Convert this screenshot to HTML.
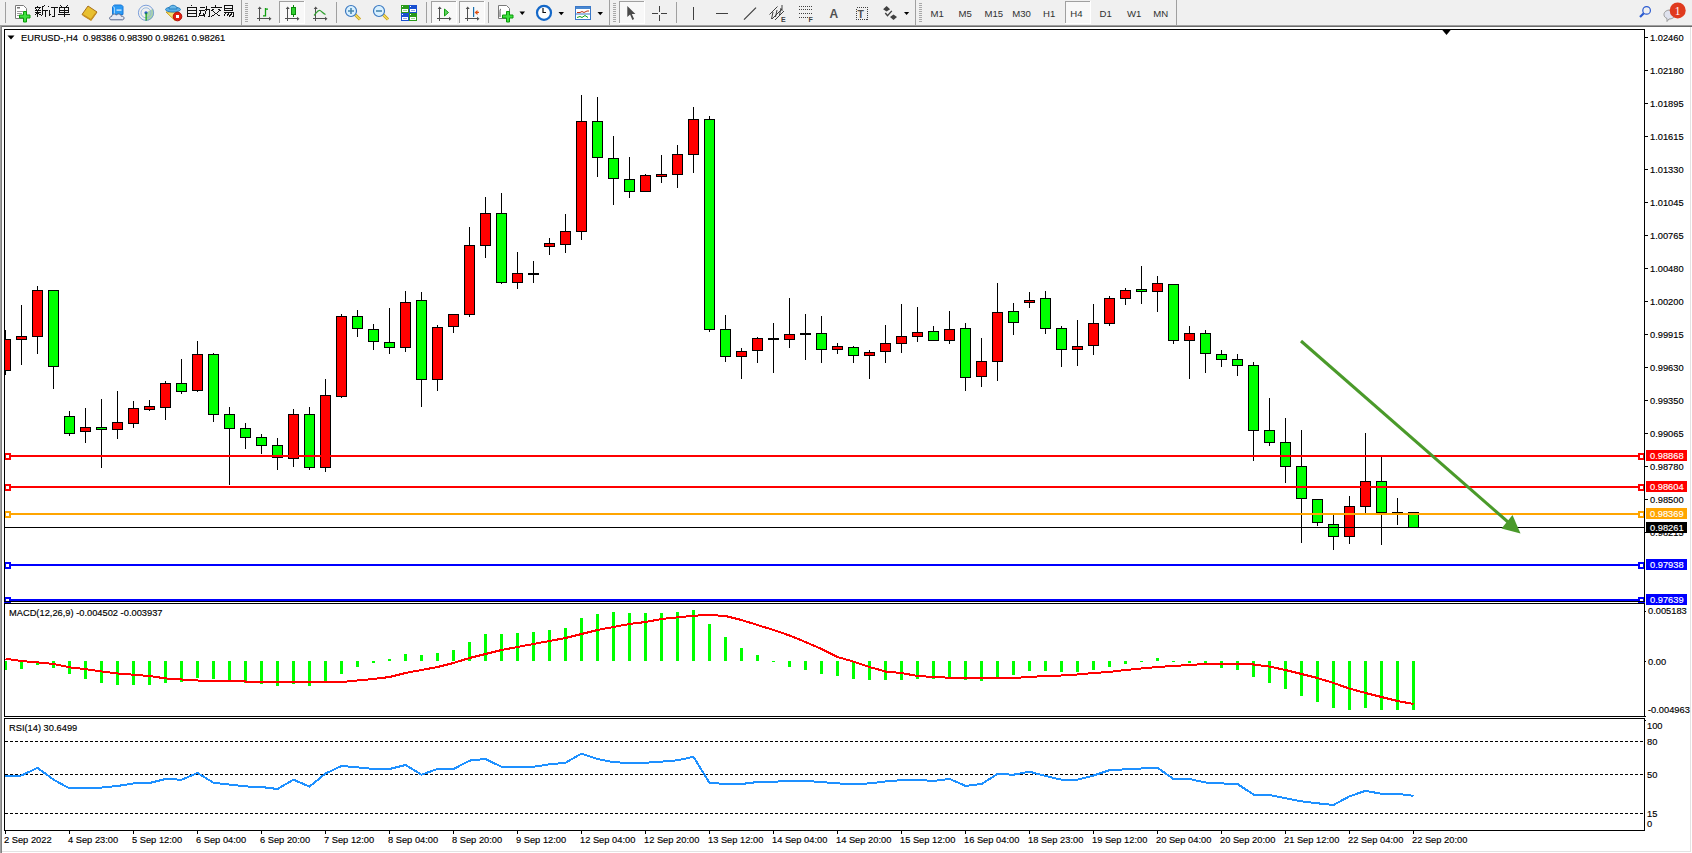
<!DOCTYPE html>
<html><head><meta charset="utf-8"><title>MT4</title>
<style>html,body{margin:0;padding:0;width:1692px;height:853px;overflow:hidden;background:#f0f0f0;position:relative;font-family:'Liberation Sans',sans-serif}</style>
</head><body>
<svg width="1692" height="853" viewBox="0 0 1692 853" style="position:absolute;left:0;top:0;font-family:'Liberation Sans',sans-serif" shape-rendering="crispEdges"><style>text.k{fill:#000;stroke:#000;stroke-width:0.15px}text.w{fill:#fff;stroke:#fff;stroke-width:0.15px}</style><rect x="0" y="25" width="1692" height="828" fill="#ffffff"/><rect x="0" y="25" width="1692" height="1" fill="#a0a0a0"/><rect x="0" y="26" width="1692" height="1" fill="#696969"/><rect x="0" y="25" width="1" height="828" fill="#a0a0a0"/><rect x="1" y="26" width="1" height="827" fill="#808080"/><rect x="1690" y="27" width="1" height="825" fill="#e3e3e3"/><rect x="2" y="851" width="1689" height="1" fill="#e3e3e3"/><defs><clipPath id="cm"><rect x="5" y="30" width="1639" height="571"/></clipPath><clipPath id="cd"><rect x="5" y="604" width="1639" height="112"/></clipPath><clipPath id="cr"><rect x="5" y="719" width="1639" height="111"/></clipPath></defs><g clip-path="url(#cm)"><rect x="5" y="330" width="1" height="45" fill="#000"/><rect x="0.5" y="339.5" width="10" height="31" fill="#ff0000" stroke="#000" stroke-width="1"/><rect x="21" y="305" width="1" height="60" fill="#000"/><rect x="16.5" y="336.5" width="10" height="3" fill="#ff0000" stroke="#000" stroke-width="1"/><rect x="37" y="286" width="1" height="68" fill="#000"/><rect x="32.5" y="290.5" width="10" height="46" fill="#ff0000" stroke="#000" stroke-width="1"/><rect x="53" y="290" width="1" height="99" fill="#000"/><rect x="48.5" y="290.5" width="10" height="76" fill="#00ff00" stroke="#000" stroke-width="1"/><rect x="69" y="411" width="1" height="25" fill="#000"/><rect x="64.5" y="416.5" width="10" height="17" fill="#00ff00" stroke="#000" stroke-width="1"/><rect x="85" y="408" width="1" height="35" fill="#000"/><rect x="80.5" y="427.5" width="10" height="4" fill="#ff0000" stroke="#000" stroke-width="1"/><rect x="101" y="399" width="1" height="69" fill="#000"/><rect x="96.5" y="427.5" width="10" height="2" fill="#00ff00" stroke="#000" stroke-width="1"/><rect x="117" y="391" width="1" height="48" fill="#000"/><rect x="112.5" y="422.5" width="10" height="7" fill="#ff0000" stroke="#000" stroke-width="1"/><rect x="133" y="401" width="1" height="27" fill="#000"/><rect x="128.5" y="408.5" width="10" height="15" fill="#ff0000" stroke="#000" stroke-width="1"/><rect x="149" y="400" width="1" height="11" fill="#000"/><rect x="144.5" y="406.5" width="10" height="3" fill="#ff0000" stroke="#000" stroke-width="1"/><rect x="165" y="381" width="1" height="39" fill="#000"/><rect x="160.5" y="383.5" width="10" height="24" fill="#ff0000" stroke="#000" stroke-width="1"/><rect x="181" y="359" width="1" height="35" fill="#000"/><rect x="176.5" y="383.5" width="10" height="8" fill="#00ff00" stroke="#000" stroke-width="1"/><rect x="197" y="341" width="1" height="51" fill="#000"/><rect x="192.5" y="354.5" width="10" height="36" fill="#ff0000" stroke="#000" stroke-width="1"/><rect x="213" y="353" width="1" height="69" fill="#000"/><rect x="208.5" y="354.5" width="10" height="60" fill="#00ff00" stroke="#000" stroke-width="1"/><rect x="229" y="407" width="1" height="78" fill="#000"/><rect x="224.5" y="414.5" width="10" height="14" fill="#00ff00" stroke="#000" stroke-width="1"/><rect x="245" y="423" width="1" height="26" fill="#000"/><rect x="240.5" y="428.5" width="10" height="9" fill="#00ff00" stroke="#000" stroke-width="1"/><rect x="261" y="434" width="1" height="20" fill="#000"/><rect x="256.5" y="437.5" width="10" height="8" fill="#00ff00" stroke="#000" stroke-width="1"/><rect x="277" y="438" width="1" height="32" fill="#000"/><rect x="272.5" y="445.5" width="10" height="12" fill="#00ff00" stroke="#000" stroke-width="1"/><rect x="293" y="409" width="1" height="58" fill="#000"/><rect x="288.5" y="414.5" width="10" height="44" fill="#ff0000" stroke="#000" stroke-width="1"/><rect x="309" y="407" width="1" height="63" fill="#000"/><rect x="304.5" y="414.5" width="10" height="53" fill="#00ff00" stroke="#000" stroke-width="1"/><rect x="325" y="379" width="1" height="93" fill="#000"/><rect x="320.5" y="395.5" width="10" height="72" fill="#ff0000" stroke="#000" stroke-width="1"/><rect x="341" y="314" width="1" height="84" fill="#000"/><rect x="336.5" y="316.5" width="10" height="80" fill="#ff0000" stroke="#000" stroke-width="1"/><rect x="357" y="310" width="1" height="27" fill="#000"/><rect x="352.5" y="316.5" width="10" height="12" fill="#00ff00" stroke="#000" stroke-width="1"/><rect x="373" y="324" width="1" height="26" fill="#000"/><rect x="368.5" y="329.5" width="10" height="12" fill="#00ff00" stroke="#000" stroke-width="1"/><rect x="389" y="308" width="1" height="46" fill="#000"/><rect x="384.5" y="342.5" width="10" height="5" fill="#00ff00" stroke="#000" stroke-width="1"/><rect x="405" y="291" width="1" height="61" fill="#000"/><rect x="400.5" y="302.5" width="10" height="45" fill="#ff0000" stroke="#000" stroke-width="1"/><rect x="421" y="292" width="1" height="115" fill="#000"/><rect x="416.5" y="300.5" width="10" height="79" fill="#00ff00" stroke="#000" stroke-width="1"/><rect x="437" y="325" width="1" height="66" fill="#000"/><rect x="432.5" y="327.5" width="10" height="52" fill="#ff0000" stroke="#000" stroke-width="1"/><rect x="453" y="314" width="1" height="19" fill="#000"/><rect x="448.5" y="314.5" width="10" height="12" fill="#ff0000" stroke="#000" stroke-width="1"/><rect x="469" y="227" width="1" height="90" fill="#000"/><rect x="464.5" y="245.5" width="10" height="69" fill="#ff0000" stroke="#000" stroke-width="1"/><rect x="485" y="197" width="1" height="61" fill="#000"/><rect x="480.5" y="213.5" width="10" height="32" fill="#ff0000" stroke="#000" stroke-width="1"/><rect x="501" y="193" width="1" height="91" fill="#000"/><rect x="496.5" y="213.5" width="10" height="69" fill="#00ff00" stroke="#000" stroke-width="1"/><rect x="517" y="252" width="1" height="37" fill="#000"/><rect x="512.5" y="273.5" width="10" height="9" fill="#ff0000" stroke="#000" stroke-width="1"/><rect x="533" y="261" width="1" height="22" fill="#000"/><rect x="528" y="273" width="11" height="2" fill="#000"/><rect x="549" y="238" width="1" height="17" fill="#000"/><rect x="544.5" y="243.5" width="10" height="3" fill="#ff0000" stroke="#000" stroke-width="1"/><rect x="565" y="214" width="1" height="39" fill="#000"/><rect x="560.5" y="231.5" width="10" height="13" fill="#ff0000" stroke="#000" stroke-width="1"/><rect x="581" y="95" width="1" height="145" fill="#000"/><rect x="576.5" y="121.5" width="10" height="110" fill="#ff0000" stroke="#000" stroke-width="1"/><rect x="597" y="97" width="1" height="80" fill="#000"/><rect x="592.5" y="121.5" width="10" height="36" fill="#00ff00" stroke="#000" stroke-width="1"/><rect x="613" y="136" width="1" height="69" fill="#000"/><rect x="608.5" y="158.5" width="10" height="20" fill="#00ff00" stroke="#000" stroke-width="1"/><rect x="629" y="157" width="1" height="41" fill="#000"/><rect x="624.5" y="179.5" width="10" height="12" fill="#00ff00" stroke="#000" stroke-width="1"/><rect x="645" y="174" width="1" height="18" fill="#000"/><rect x="640.5" y="175.5" width="10" height="16" fill="#ff0000" stroke="#000" stroke-width="1"/><rect x="661" y="155" width="1" height="28" fill="#000"/><rect x="656.5" y="174.5" width="10" height="2" fill="#ff0000" stroke="#000" stroke-width="1"/><rect x="677" y="145" width="1" height="43" fill="#000"/><rect x="672.5" y="154.5" width="10" height="20" fill="#ff0000" stroke="#000" stroke-width="1"/><rect x="693" y="107" width="1" height="66" fill="#000"/><rect x="688.5" y="119.5" width="10" height="35" fill="#ff0000" stroke="#000" stroke-width="1"/><rect x="709" y="116" width="1" height="216" fill="#000"/><rect x="704.5" y="119.5" width="10" height="210" fill="#00ff00" stroke="#000" stroke-width="1"/><rect x="725" y="315" width="1" height="47" fill="#000"/><rect x="720.5" y="329.5" width="10" height="27" fill="#00ff00" stroke="#000" stroke-width="1"/><rect x="741" y="348" width="1" height="31" fill="#000"/><rect x="736.5" y="351.5" width="10" height="5" fill="#ff0000" stroke="#000" stroke-width="1"/><rect x="757" y="337" width="1" height="26" fill="#000"/><rect x="752.5" y="338.5" width="10" height="12" fill="#ff0000" stroke="#000" stroke-width="1"/><rect x="773" y="323" width="1" height="50" fill="#000"/><rect x="768" y="338" width="11" height="2" fill="#000"/><rect x="789" y="298" width="1" height="50" fill="#000"/><rect x="784.5" y="334.5" width="10" height="5" fill="#ff0000" stroke="#000" stroke-width="1"/><rect x="805" y="314" width="1" height="46" fill="#000"/><rect x="800" y="333" width="11" height="2" fill="#000"/><rect x="821" y="316" width="1" height="47" fill="#000"/><rect x="816.5" y="333.5" width="10" height="16" fill="#00ff00" stroke="#000" stroke-width="1"/><rect x="837" y="343" width="1" height="11" fill="#000"/><rect x="832.5" y="346.5" width="10" height="3" fill="#ff0000" stroke="#000" stroke-width="1"/><rect x="853" y="346" width="1" height="17" fill="#000"/><rect x="848.5" y="347.5" width="10" height="8" fill="#00ff00" stroke="#000" stroke-width="1"/><rect x="869" y="350" width="1" height="29" fill="#000"/><rect x="864.5" y="352.5" width="10" height="3" fill="#ff0000" stroke="#000" stroke-width="1"/><rect x="885" y="325" width="1" height="38" fill="#000"/><rect x="880.5" y="343.5" width="10" height="8" fill="#ff0000" stroke="#000" stroke-width="1"/><rect x="901" y="304" width="1" height="49" fill="#000"/><rect x="896.5" y="336.5" width="10" height="7" fill="#ff0000" stroke="#000" stroke-width="1"/><rect x="917" y="307" width="1" height="35" fill="#000"/><rect x="912.5" y="332.5" width="10" height="4" fill="#ff0000" stroke="#000" stroke-width="1"/><rect x="933" y="326" width="1" height="15" fill="#000"/><rect x="928.5" y="331.5" width="10" height="9" fill="#00ff00" stroke="#000" stroke-width="1"/><rect x="949" y="311" width="1" height="33" fill="#000"/><rect x="944.5" y="329.5" width="10" height="11" fill="#ff0000" stroke="#000" stroke-width="1"/><rect x="965" y="323" width="1" height="68" fill="#000"/><rect x="960.5" y="328.5" width="10" height="49" fill="#00ff00" stroke="#000" stroke-width="1"/><rect x="981" y="338" width="1" height="49" fill="#000"/><rect x="976.5" y="361.5" width="10" height="15" fill="#ff0000" stroke="#000" stroke-width="1"/><rect x="997" y="283" width="1" height="98" fill="#000"/><rect x="992.5" y="312.5" width="10" height="49" fill="#ff0000" stroke="#000" stroke-width="1"/><rect x="1013" y="303" width="1" height="32" fill="#000"/><rect x="1008.5" y="311.5" width="10" height="11" fill="#00ff00" stroke="#000" stroke-width="1"/><rect x="1029" y="292" width="1" height="16" fill="#000"/><rect x="1024.5" y="300.5" width="10" height="2" fill="#ff0000" stroke="#000" stroke-width="1"/><rect x="1045" y="291" width="1" height="43" fill="#000"/><rect x="1040.5" y="298.5" width="10" height="30" fill="#00ff00" stroke="#000" stroke-width="1"/><rect x="1061" y="326" width="1" height="41" fill="#000"/><rect x="1056.5" y="328.5" width="10" height="21" fill="#00ff00" stroke="#000" stroke-width="1"/><rect x="1077" y="320" width="1" height="46" fill="#000"/><rect x="1072.5" y="346.5" width="10" height="3" fill="#ff0000" stroke="#000" stroke-width="1"/><rect x="1093" y="304" width="1" height="51" fill="#000"/><rect x="1088.5" y="323.5" width="10" height="22" fill="#ff0000" stroke="#000" stroke-width="1"/><rect x="1109" y="296" width="1" height="30" fill="#000"/><rect x="1104.5" y="298.5" width="10" height="25" fill="#ff0000" stroke="#000" stroke-width="1"/><rect x="1125" y="288" width="1" height="17" fill="#000"/><rect x="1120.5" y="290.5" width="10" height="8" fill="#ff0000" stroke="#000" stroke-width="1"/><rect x="1141" y="266" width="1" height="38" fill="#000"/><rect x="1136.5" y="289.5" width="10" height="2" fill="#00ff00" stroke="#000" stroke-width="1"/><rect x="1157" y="276" width="1" height="36" fill="#000"/><rect x="1152.5" y="283.5" width="10" height="8" fill="#ff0000" stroke="#000" stroke-width="1"/><rect x="1173" y="284" width="1" height="60" fill="#000"/><rect x="1168.5" y="284.5" width="10" height="56" fill="#00ff00" stroke="#000" stroke-width="1"/><rect x="1189" y="326" width="1" height="53" fill="#000"/><rect x="1184.5" y="333.5" width="10" height="7" fill="#ff0000" stroke="#000" stroke-width="1"/><rect x="1205" y="330" width="1" height="43" fill="#000"/><rect x="1200.5" y="333.5" width="10" height="20" fill="#00ff00" stroke="#000" stroke-width="1"/><rect x="1221" y="350" width="1" height="17" fill="#000"/><rect x="1216.5" y="354.5" width="10" height="5" fill="#00ff00" stroke="#000" stroke-width="1"/><rect x="1237" y="354" width="1" height="22" fill="#000"/><rect x="1232.5" y="359.5" width="10" height="6" fill="#00ff00" stroke="#000" stroke-width="1"/><rect x="1253" y="362" width="1" height="99" fill="#000"/><rect x="1248.5" y="365.5" width="10" height="65" fill="#00ff00" stroke="#000" stroke-width="1"/><rect x="1269" y="398" width="1" height="48" fill="#000"/><rect x="1264.5" y="430.5" width="10" height="12" fill="#00ff00" stroke="#000" stroke-width="1"/><rect x="1285" y="418" width="1" height="65" fill="#000"/><rect x="1280.5" y="442.5" width="10" height="24" fill="#00ff00" stroke="#000" stroke-width="1"/><rect x="1301" y="430" width="1" height="113" fill="#000"/><rect x="1296.5" y="466.5" width="10" height="32" fill="#00ff00" stroke="#000" stroke-width="1"/><rect x="1317" y="499" width="1" height="27" fill="#000"/><rect x="1312.5" y="499.5" width="10" height="23" fill="#00ff00" stroke="#000" stroke-width="1"/><rect x="1333" y="515" width="1" height="35" fill="#000"/><rect x="1328.5" y="524.5" width="10" height="12" fill="#00ff00" stroke="#000" stroke-width="1"/><rect x="1349" y="496" width="1" height="48" fill="#000"/><rect x="1344.5" y="506.5" width="10" height="30" fill="#ff0000" stroke="#000" stroke-width="1"/><rect x="1365" y="433" width="1" height="80" fill="#000"/><rect x="1360.5" y="481.5" width="10" height="25" fill="#ff0000" stroke="#000" stroke-width="1"/><rect x="1381" y="456" width="1" height="89" fill="#000"/><rect x="1376.5" y="481.5" width="10" height="31" fill="#00ff00" stroke="#000" stroke-width="1"/><rect x="1397" y="498" width="1" height="27" fill="#000"/><rect x="1392" y="512" width="11" height="2" fill="#000"/><rect x="1413" y="512" width="1" height="16" fill="#000"/><rect x="1408.5" y="512.5" width="10" height="15" fill="#00ff00" stroke="#000" stroke-width="1"/><rect x="5" y="455" width="1639" height="2" fill="#ff0000"/><rect x="5" y="486" width="1639" height="2" fill="#ff0000"/><rect x="5" y="513" width="1639" height="2" fill="#ffa500"/><rect x="5" y="564" width="1639" height="2" fill="#0000ff"/><rect x="5" y="599" width="1639" height="2" fill="#0000ff"/><rect x="5" y="527" width="1639" height="1" fill="#000"/><g shape-rendering="auto"><line x1="1301" y1="341" x2="1508" y2="522" stroke="#4a9a2a" stroke-width="3"/><polygon points="1520.5,533.5 1512.5,515 1501.5,528.5" fill="#4a9a2a"/></g></g><rect x="4.5" y="453.5" width="5" height="5" fill="#fff" stroke="#ff0000" stroke-width="2"/><rect x="1638.5" y="453.5" width="5" height="5" fill="#fff" stroke="#ff0000" stroke-width="2"/><rect x="4.5" y="484.5" width="5" height="5" fill="#fff" stroke="#ff0000" stroke-width="2"/><rect x="1638.5" y="484.5" width="5" height="5" fill="#fff" stroke="#ff0000" stroke-width="2"/><rect x="4.5" y="511.5" width="5" height="5" fill="#fff" stroke="#ffa500" stroke-width="2"/><rect x="1638.5" y="511.5" width="5" height="5" fill="#fff" stroke="#ffa500" stroke-width="2"/><rect x="4.5" y="562.5" width="5" height="5" fill="#fff" stroke="#0000ff" stroke-width="2"/><rect x="1638.5" y="562.5" width="5" height="5" fill="#fff" stroke="#0000ff" stroke-width="2"/><rect x="4.5" y="597.5" width="5" height="5" fill="#fff" stroke="#0000ff" stroke-width="2"/><rect x="1638.5" y="597.5" width="5" height="5" fill="#fff" stroke="#0000ff" stroke-width="2"/><rect x="4.5" y="29.5" width="1640" height="572" fill="none" stroke="#000"/><rect x="4.5" y="603.5" width="1640" height="113" fill="none" stroke="#000"/><rect x="4.5" y="718.5" width="1640" height="112" fill="none" stroke="#000"/><polygon points="1441.5,29 1451.5,29 1446.5,35" fill="#000" shape-rendering="auto"/><polygon points="7.5,35.5 14.5,35.5 11,39.5" fill="#000" shape-rendering="auto"/><text x="21" y="41" font-size="9.3" class="k" xml:space="preserve">EURUSD-,H4  0.98386 0.98390 0.98261 0.98261</text><rect x="1645" y="37" width="3" height="1" fill="#000"/><text x="1650" y="40.6" font-size="9.3" class="k">1.02460</text><rect x="1645" y="70" width="3" height="1" fill="#000"/><text x="1650" y="73.6" font-size="9.3" class="k">1.02180</text><rect x="1645" y="103" width="3" height="1" fill="#000"/><text x="1650" y="106.6" font-size="9.3" class="k">1.01895</text><rect x="1645" y="136" width="3" height="1" fill="#000"/><text x="1650" y="139.6" font-size="9.3" class="k">1.01615</text><rect x="1645" y="169" width="3" height="1" fill="#000"/><text x="1650" y="172.6" font-size="9.3" class="k">1.01330</text><rect x="1645" y="202" width="3" height="1" fill="#000"/><text x="1650" y="205.6" font-size="9.3" class="k">1.01045</text><rect x="1645" y="235" width="3" height="1" fill="#000"/><text x="1650" y="238.6" font-size="9.3" class="k">1.00765</text><rect x="1645" y="268" width="3" height="1" fill="#000"/><text x="1650" y="271.6" font-size="9.3" class="k">1.00480</text><rect x="1645" y="301" width="3" height="1" fill="#000"/><text x="1650" y="304.6" font-size="9.3" class="k">1.00200</text><rect x="1645" y="334" width="3" height="1" fill="#000"/><text x="1650" y="337.6" font-size="9.3" class="k">0.99915</text><rect x="1645" y="367" width="3" height="1" fill="#000"/><text x="1650" y="370.6" font-size="9.3" class="k">0.99630</text><rect x="1645" y="400" width="3" height="1" fill="#000"/><text x="1650" y="403.6" font-size="9.3" class="k">0.99350</text><rect x="1645" y="433" width="3" height="1" fill="#000"/><text x="1650" y="436.6" font-size="9.3" class="k">0.99065</text><rect x="1645" y="466" width="3" height="1" fill="#000"/><text x="1650" y="469.6" font-size="9.3" class="k">0.98780</text><rect x="1645" y="499" width="3" height="1" fill="#000"/><text x="1650" y="502.6" font-size="9.3" class="k">0.98500</text><rect x="1645" y="532" width="3" height="1" fill="#000"/><text x="1650" y="535.6" font-size="9.3" class="k">0.98215</text><rect x="1646" y="450" width="41" height="11" fill="#ff0000"/><text x="1650" y="459.1" font-size="9.3" class="w">0.98868</text><rect x="1646" y="481" width="41" height="11" fill="#ff0000"/><text x="1650" y="490.1" font-size="9.3" class="w">0.98604</text><rect x="1646" y="508" width="41" height="11" fill="#ffa500"/><text x="1650" y="517.1" font-size="9.3" class="w">0.98369</text><rect x="1646" y="559" width="41" height="11" fill="#0000ff"/><text x="1650" y="568.1" font-size="9.3" class="w">0.97938</text><rect x="1646" y="594" width="41" height="11" fill="#0000ff"/><text x="1650" y="603.1" font-size="9.3" class="w">0.97639</text><rect x="1646" y="522" width="41" height="11" fill="#000"/><text x="1650" y="530.6" font-size="9.3" class="w">0.98261</text><g clip-path="url(#cd)"><rect x="4" y="661" width="3" height="9" fill="#00ff00"/><rect x="20" y="661" width="3" height="8" fill="#00ff00"/><rect x="36" y="661" width="3" height="4" fill="#00ff00"/><rect x="52" y="661" width="3" height="7" fill="#00ff00"/><rect x="68" y="661" width="3" height="13" fill="#00ff00"/><rect x="84" y="661" width="3" height="18" fill="#00ff00"/><rect x="100" y="661" width="3" height="22" fill="#00ff00"/><rect x="116" y="661" width="3" height="24" fill="#00ff00"/><rect x="132" y="661" width="3" height="24" fill="#00ff00"/><rect x="148" y="661" width="3" height="24" fill="#00ff00"/><rect x="164" y="661" width="3" height="22" fill="#00ff00"/><rect x="180" y="661" width="3" height="21" fill="#00ff00"/><rect x="196" y="661" width="3" height="17" fill="#00ff00"/><rect x="212" y="661" width="3" height="18" fill="#00ff00"/><rect x="228" y="661" width="3" height="19" fill="#00ff00"/><rect x="244" y="661" width="3" height="22" fill="#00ff00"/><rect x="260" y="661" width="3" height="23" fill="#00ff00"/><rect x="276" y="661" width="3" height="25" fill="#00ff00"/><rect x="292" y="661" width="3" height="23" fill="#00ff00"/><rect x="308" y="661" width="3" height="25" fill="#00ff00"/><rect x="324" y="661" width="3" height="20" fill="#00ff00"/><rect x="340" y="661" width="3" height="13" fill="#00ff00"/><rect x="356" y="661" width="3" height="6" fill="#00ff00"/><rect x="372" y="661" width="3" height="2" fill="#00ff00"/><rect x="388" y="659" width="3" height="2" fill="#00ff00"/><rect x="404" y="654" width="3" height="7" fill="#00ff00"/><rect x="420" y="655" width="3" height="6" fill="#00ff00"/><rect x="436" y="653" width="3" height="8" fill="#00ff00"/><rect x="452" y="650" width="3" height="11" fill="#00ff00"/><rect x="468" y="642" width="3" height="19" fill="#00ff00"/><rect x="484" y="634" width="3" height="27" fill="#00ff00"/><rect x="500" y="634" width="3" height="27" fill="#00ff00"/><rect x="516" y="633" width="3" height="28" fill="#00ff00"/><rect x="532" y="632" width="3" height="29" fill="#00ff00"/><rect x="548" y="630" width="3" height="31" fill="#00ff00"/><rect x="564" y="628" width="3" height="33" fill="#00ff00"/><rect x="580" y="618" width="3" height="43" fill="#00ff00"/><rect x="596" y="614" width="3" height="47" fill="#00ff00"/><rect x="612" y="612" width="3" height="49" fill="#00ff00"/><rect x="628" y="613" width="3" height="48" fill="#00ff00"/><rect x="644" y="613" width="3" height="48" fill="#00ff00"/><rect x="660" y="613" width="3" height="48" fill="#00ff00"/><rect x="676" y="612" width="3" height="49" fill="#00ff00"/><rect x="692" y="610" width="3" height="51" fill="#00ff00"/><rect x="708" y="624" width="3" height="37" fill="#00ff00"/><rect x="724" y="637" width="3" height="24" fill="#00ff00"/><rect x="740" y="648" width="3" height="13" fill="#00ff00"/><rect x="756" y="655" width="3" height="6" fill="#00ff00"/><rect x="772" y="661" width="3" height="1" fill="#00ff00"/><rect x="788" y="661" width="3" height="6" fill="#00ff00"/><rect x="804" y="661" width="3" height="9" fill="#00ff00"/><rect x="820" y="661" width="3" height="13" fill="#00ff00"/><rect x="836" y="661" width="3" height="15" fill="#00ff00"/><rect x="852" y="661" width="3" height="18" fill="#00ff00"/><rect x="868" y="661" width="3" height="19" fill="#00ff00"/><rect x="884" y="661" width="3" height="19" fill="#00ff00"/><rect x="900" y="661" width="3" height="19" fill="#00ff00"/><rect x="916" y="661" width="3" height="18" fill="#00ff00"/><rect x="932" y="661" width="3" height="18" fill="#00ff00"/><rect x="948" y="661" width="3" height="18" fill="#00ff00"/><rect x="964" y="661" width="3" height="19" fill="#00ff00"/><rect x="980" y="661" width="3" height="20" fill="#00ff00"/><rect x="996" y="661" width="3" height="16" fill="#00ff00"/><rect x="1012" y="661" width="3" height="14" fill="#00ff00"/><rect x="1028" y="661" width="3" height="10" fill="#00ff00"/><rect x="1044" y="661" width="3" height="10" fill="#00ff00"/><rect x="1060" y="661" width="3" height="11" fill="#00ff00"/><rect x="1076" y="661" width="3" height="11" fill="#00ff00"/><rect x="1092" y="661" width="3" height="9" fill="#00ff00"/><rect x="1108" y="661" width="3" height="6" fill="#00ff00"/><rect x="1124" y="661" width="3" height="3" fill="#00ff00"/><rect x="1140" y="661" width="3" height="1" fill="#00ff00"/><rect x="1156" y="658" width="3" height="3" fill="#00ff00"/><rect x="1172" y="661" width="3" height="1" fill="#00ff00"/><rect x="1188" y="661" width="3" height="2" fill="#00ff00"/><rect x="1204" y="661" width="3" height="4" fill="#00ff00"/><rect x="1220" y="661" width="3" height="7" fill="#00ff00"/><rect x="1236" y="661" width="3" height="9" fill="#00ff00"/><rect x="1252" y="661" width="3" height="16" fill="#00ff00"/><rect x="1268" y="661" width="3" height="22" fill="#00ff00"/><rect x="1284" y="661" width="3" height="28" fill="#00ff00"/><rect x="1300" y="661" width="3" height="35" fill="#00ff00"/><rect x="1316" y="661" width="3" height="41" fill="#00ff00"/><rect x="1332" y="661" width="3" height="47" fill="#00ff00"/><rect x="1348" y="661" width="3" height="49" fill="#00ff00"/><rect x="1364" y="661" width="3" height="47" fill="#00ff00"/><rect x="1380" y="661" width="3" height="49" fill="#00ff00"/><rect x="1396" y="661" width="3" height="49" fill="#00ff00"/><rect x="1412" y="661" width="3" height="49" fill="#00ff00"/><polyline points="5.5,658.7 21.5,661 37.5,662.4 53.5,664 69.5,667.3 85.5,669.2 101.5,671.4 117.5,673.5 133.5,674.7 149.5,676 165.5,678.4 181.5,679.5 197.5,680.5 213.5,681 229.5,681 245.5,681.5 261.5,681.5 277.5,681.5 293.5,682 309.5,682 325.5,682 341.5,682 357.5,680.5 373.5,679 389.5,677 405.5,673 421.5,670 437.5,667 453.5,663 469.5,658 485.5,654 501.5,650 517.5,647 533.5,644 549.5,641 565.5,638 581.5,634 597.5,630 613.5,627 629.5,624 645.5,622 661.5,619 677.5,617.4 693.5,615.7 709.5,615 725.5,616 741.5,620 757.5,625 773.5,630 789.5,635.5 805.5,642 821.5,649 837.5,657 853.5,661.6 869.5,667 885.5,671.5 901.5,673 917.5,676 933.5,677 949.5,677.7 965.5,678 981.5,678 997.5,678 1013.5,678 1029.5,677 1045.5,676 1061.5,675.5 1077.5,674.5 1093.5,673 1109.5,672 1125.5,670 1141.5,668.5 1157.5,667 1173.5,666 1189.5,665 1205.5,664 1221.5,664 1237.5,664 1253.5,664.5 1269.5,666.6 1285.5,670 1301.5,674 1317.5,678 1333.5,683 1349.5,688.6 1365.5,693 1381.5,697 1397.5,701 1413.5,704" fill="none" stroke="#ff0000" stroke-width="2" shape-rendering="crispEdges"/></g><text x="9" y="616" font-size="9.3" class="k">MACD(12,26,9) -0.004502 -0.003937</text><rect x="1645" y="611" width="1" height="1" fill="#000"/><text x="1648" y="614" font-size="9.3" class="k">0.005183</text><rect x="1645" y="661" width="1" height="1" fill="#000"/><text x="1648" y="665" font-size="9.3" class="k">0.00</text><rect x="1645" y="716" width="1" height="1" fill="#000"/><text x="1648" y="713" font-size="9.3" class="k">-0.004963</text><g clip-path="url(#cr)"><line x1="5" y1="741.5" x2="1644" y2="741.5" stroke="#000" stroke-dasharray="3,2"/><line x1="5" y1="774.5" x2="1644" y2="774.5" stroke="#000" stroke-dasharray="3,2"/><line x1="5" y1="813.5" x2="1644" y2="813.5" stroke="#000" stroke-dasharray="3,2"/><polyline points="5.5,776 21.5,775.5 37.5,767.8 53.5,779.7 69.5,788.4 85.5,787.6 101.5,787.6 117.5,786 133.5,783.4 149.5,783 165.5,779 181.5,779.7 197.5,773 213.5,782.7 229.5,784.6 245.5,786.4 261.5,787 277.5,789 293.5,779.7 309.5,786.6 325.5,773.5 341.5,766 357.5,767.3 373.5,769 389.5,769 405.5,765 421.5,774.7 437.5,769 453.5,769 469.5,760.6 485.5,759 501.5,766.8 517.5,766.8 533.5,766.8 549.5,764.3 565.5,762.8 581.5,753.6 597.5,759 613.5,762.3 629.5,762.8 645.5,762.8 661.5,761.6 677.5,760.3 693.5,756.8 709.5,782.9 725.5,783.9 741.5,784 757.5,782 773.5,781.7 789.5,781 805.5,781 821.5,782 837.5,783.4 853.5,784 869.5,783.4 885.5,781.4 901.5,780.2 917.5,779.7 933.5,781 949.5,778.9 965.5,785.9 981.5,784 997.5,774 1013.5,774.7 1029.5,771.7 1045.5,776 1061.5,779.7 1077.5,779.7 1093.5,775.5 1109.5,770.2 1125.5,769.3 1141.5,768.5 1157.5,767.8 1173.5,779 1189.5,779 1205.5,782.5 1221.5,783.4 1237.5,784 1253.5,794.6 1269.5,795 1285.5,798.3 1301.5,801.3 1317.5,803.3 1333.5,805 1349.5,796.3 1365.5,790.8 1381.5,793.8 1397.5,793.8 1413.5,795.8" fill="none" stroke="#1e90ff" stroke-width="2" shape-rendering="crispEdges"/></g><text x="9" y="731" font-size="9.3" class="k">RSI(14) 30.6499</text><rect x="1645" y="720" width="1" height="1" fill="#000"/><text x="1647" y="728.8" font-size="9.3" class="k">100</text><text x="1647" y="745" font-size="9.3" class="k">80</text><text x="1647" y="777.8" font-size="9.3" class="k">50</text><text x="1647" y="816.7" font-size="9.3" class="k">15</text><text x="1647" y="826.5" font-size="9.3" class="k">0</text><rect x="5" y="831" width="1" height="3" fill="#000"/><text x="4" y="843" font-size="9.3" class="k">2 Sep 2022</text><rect x="69" y="831" width="1" height="3" fill="#000"/><text x="68" y="843" font-size="9.3" class="k">4 Sep 23:00</text><rect x="133" y="831" width="1" height="3" fill="#000"/><text x="132" y="843" font-size="9.3" class="k">5 Sep 12:00</text><rect x="197" y="831" width="1" height="3" fill="#000"/><text x="196" y="843" font-size="9.3" class="k">6 Sep 04:00</text><rect x="261" y="831" width="1" height="3" fill="#000"/><text x="260" y="843" font-size="9.3" class="k">6 Sep 20:00</text><rect x="325" y="831" width="1" height="3" fill="#000"/><text x="324" y="843" font-size="9.3" class="k">7 Sep 12:00</text><rect x="389" y="831" width="1" height="3" fill="#000"/><text x="388" y="843" font-size="9.3" class="k">8 Sep 04:00</text><rect x="453" y="831" width="1" height="3" fill="#000"/><text x="452" y="843" font-size="9.3" class="k">8 Sep 20:00</text><rect x="517" y="831" width="1" height="3" fill="#000"/><text x="516" y="843" font-size="9.3" class="k">9 Sep 12:00</text><rect x="581" y="831" width="1" height="3" fill="#000"/><text x="580" y="843" font-size="9.3" class="k">12 Sep 04:00</text><rect x="645" y="831" width="1" height="3" fill="#000"/><text x="644" y="843" font-size="9.3" class="k">12 Sep 20:00</text><rect x="709" y="831" width="1" height="3" fill="#000"/><text x="708" y="843" font-size="9.3" class="k">13 Sep 12:00</text><rect x="773" y="831" width="1" height="3" fill="#000"/><text x="772" y="843" font-size="9.3" class="k">14 Sep 04:00</text><rect x="837" y="831" width="1" height="3" fill="#000"/><text x="836" y="843" font-size="9.3" class="k">14 Sep 20:00</text><rect x="901" y="831" width="1" height="3" fill="#000"/><text x="900" y="843" font-size="9.3" class="k">15 Sep 12:00</text><rect x="965" y="831" width="1" height="3" fill="#000"/><text x="964" y="843" font-size="9.3" class="k">16 Sep 04:00</text><rect x="1029" y="831" width="1" height="3" fill="#000"/><text x="1028" y="843" font-size="9.3" class="k">18 Sep 23:00</text><rect x="1093" y="831" width="1" height="3" fill="#000"/><text x="1092" y="843" font-size="9.3" class="k">19 Sep 12:00</text><rect x="1157" y="831" width="1" height="3" fill="#000"/><text x="1156" y="843" font-size="9.3" class="k">20 Sep 04:00</text><rect x="1221" y="831" width="1" height="3" fill="#000"/><text x="1220" y="843" font-size="9.3" class="k">20 Sep 20:00</text><rect x="1285" y="831" width="1" height="3" fill="#000"/><text x="1284" y="843" font-size="9.3" class="k">21 Sep 12:00</text><rect x="1349" y="831" width="1" height="3" fill="#000"/><text x="1348" y="843" font-size="9.3" class="k">22 Sep 04:00</text><rect x="1413" y="831" width="1" height="3" fill="#000"/><text x="1412" y="843" font-size="9.3" class="k">22 Sep 20:00</text></svg>
<svg width="1692" height="25" viewBox="0 0 1692 25" style="position:absolute;left:0;top:0;font-family:'Liberation Sans',sans-serif">
<rect x="0" y="0" width="1692" height="25" fill="#f0f0f0"/>
<g shape-rendering="crispEdges">
<rect x="5" y="2" width="1" height="21" fill="#a0a0a0"/>
<rect x="241" y="0" width="1" height="25" fill="#a0a0a0"/>
<rect x="336" y="2" width="1" height="21" fill="#a0a0a0"/>
<rect x="426" y="2" width="1" height="21" fill="#a0a0a0"/>
<rect x="488" y="2" width="1" height="21" fill="#a0a0a0"/>
<rect x="609" y="0" width="1" height="25" fill="#a0a0a0"/>
<rect x="676" y="2" width="1" height="21" fill="#a0a0a0"/>
<rect x="915" y="0" width="1" height="25" fill="#a0a0a0"/>
<rect x="1176" y="0" width="1" height="25" fill="#a0a0a0"/>
<!-- grips -->
<g fill="#a8a8a8">
<rect x="245" y="3" width="3" height="1"/><rect x="245" y="5" width="3" height="1"/><rect x="245" y="7" width="3" height="1"/><rect x="245" y="9" width="3" height="1"/><rect x="245" y="11" width="3" height="1"/><rect x="245" y="13" width="3" height="1"/><rect x="245" y="15" width="3" height="1"/><rect x="245" y="17" width="3" height="1"/><rect x="245" y="19" width="3" height="1"/><rect x="245" y="21" width="3" height="1"/>
<rect x="613" y="3" width="3" height="1"/><rect x="613" y="5" width="3" height="1"/><rect x="613" y="7" width="3" height="1"/><rect x="613" y="9" width="3" height="1"/><rect x="613" y="11" width="3" height="1"/><rect x="613" y="13" width="3" height="1"/><rect x="613" y="15" width="3" height="1"/><rect x="613" y="17" width="3" height="1"/><rect x="613" y="19" width="3" height="1"/><rect x="613" y="21" width="3" height="1"/>
<rect x="919" y="3" width="3" height="1"/><rect x="919" y="5" width="3" height="1"/><rect x="919" y="7" width="3" height="1"/><rect x="919" y="9" width="3" height="1"/><rect x="919" y="11" width="3" height="1"/><rect x="919" y="13" width="3" height="1"/><rect x="919" y="15" width="3" height="1"/><rect x="919" y="17" width="3" height="1"/><rect x="919" y="19" width="3" height="1"/><rect x="919" y="21" width="3" height="1"/>
</g>
<!-- pressed buttons -->
<g>
<rect x="279" y="1" width="25" height="22" fill="#f8f8f8"/><rect x="279" y="1" width="25" height="1" fill="#a0a0a0"/><rect x="279" y="1" width="1" height="22" fill="#a0a0a0"/><rect x="279" y="23" width="26" height="1" fill="#fff"/><rect x="304" y="1" width="1" height="23" fill="#fff"/>
<rect x="431" y="1" width="25" height="22" fill="#f8f8f8"/><rect x="431" y="1" width="25" height="1" fill="#a0a0a0"/><rect x="431" y="1" width="1" height="22" fill="#a0a0a0"/><rect x="431" y="23" width="26" height="1" fill="#fff"/><rect x="456" y="1" width="1" height="23" fill="#fff"/>
<rect x="459" y="1" width="25" height="22" fill="#f8f8f8"/><rect x="459" y="1" width="25" height="1" fill="#a0a0a0"/><rect x="459" y="1" width="1" height="22" fill="#a0a0a0"/><rect x="459" y="23" width="26" height="1" fill="#fff"/><rect x="484" y="1" width="1" height="23" fill="#fff"/>
<rect x="619" y="1" width="25" height="22" fill="#f8f8f8"/><rect x="619" y="1" width="25" height="1" fill="#a0a0a0"/><rect x="619" y="1" width="1" height="22" fill="#a0a0a0"/><rect x="619" y="23" width="26" height="1" fill="#fff"/><rect x="644" y="1" width="1" height="23" fill="#fff"/>
<rect x="1065" y="1" width="25" height="22" fill="#f8f8f8"/><rect x="1065" y="1" width="25" height="1" fill="#a0a0a0"/><rect x="1065" y="1" width="1" height="22" fill="#a0a0a0"/><rect x="1065" y="23" width="26" height="1" fill="#fff"/><rect x="1090" y="1" width="1" height="23" fill="#fff"/>
</g>
</g>
<!-- new order icon -->
<path d="M15.5,5.5 h8 l3,3 v10 h-11 z" fill="#fff" stroke="#7a7a7a"/>
<rect x="17" y="7" width="3" height="1.5" fill="#777"/>
<rect x="17" y="11" width="6" height="1" fill="#999"/><rect x="17" y="13" width="5" height="1" fill="#999"/><rect x="17" y="15" width="4" height="1" fill="#999"/>
<path d="M23.5,11.5 h3 v3.5 h3.5 v3 h-3.5 v4 h-3 v-4 h-4 v-3 h4 z" fill="#3ee03e" stroke="#0a9a0a"/>
<!-- CJK 新订单 approximations -->
<g stroke="#111" stroke-width="1" fill="none" shape-rendering="crispEdges">
<path d="M37.5,5.5 v1.5 M34.5,7.5 h6 M35.5,8.5 l1,1.5 M39.5,8.5 l-1,1.5 M34.5,10.5 h6.5 M34.5,12.5 h6 M37.5,10.5 v6.5 M37,13 l-2.5,2.5 M38,13 l2.5,2"/>
<path d="M45,5.5 l-2.5,1.5 M42.5,7 v6 l-1,3.5 M42.5,10.5 h5.5 M45.5,10.5 v6.5"/>
<path d="M48.5,6 l1,1.5 M48.5,10.5 h1 v5 l1.5,-1.5"/>
<path d="M50.5,7.5 h7 M54.5,7.5 v9 h-2.5"/>
<path d="M60.5,5.5 l1,1.5 M67.5,5.5 l-1,1.5 M59.5,7.5 h9 v5 h-9 z M59.5,10 h9 M64,7.5 v9.5 M58,14.5 h12"/>
</g>
<!-- gold icon -->
<path d="M88,6 l9,6 l-6,8 l-9,-5.5 z" fill="#e8c030" stroke="#a8701a"/>
<path d="M83,15 l8,5 l5,-7" fill="none" stroke="#c89020" stroke-width="1.5"/>
<!-- blue cloud icon -->
<path d="M112.5,6.5 l2,-1.5 h7 l1.5,1.5 v8 h-10.5 z" fill="#2a9af4" stroke="#1a78d8"/>
<path d="M112.5,6.5 l2,1 v7" stroke="#9ad0ff" fill="none"/>
<rect x="116.5" y="9.5" width="5" height="1.2" fill="#e8f4ff"/>
<path d="M110.8,19.8 c-1.8,-0.3 -1.5,-3.3 0.8,-3.3 c0.3,-2.6 3.6,-3.3 4.8,-1.3 c1,-2 4.6,-1.6 4.8,1 c2.6,-0.6 4,2.6 1.6,3.6 z" fill="#e6e9f3" stroke="#56668a" stroke-width="1"/>
<!-- signal icon -->
<path d="M146,12.8 v8 a8,8 0 0 0 6.9,-12 z" fill="#9fd09a" opacity="0.85"/>
<circle cx="146" cy="12.8" r="7.6" fill="none" stroke="#6f96d8" stroke-width="0.9"/>
<circle cx="146" cy="12.8" r="5" fill="none" stroke="#8fb3de" stroke-width="0.9"/>
<circle cx="146" cy="12.8" r="1.6" fill="#2a5ad0"/>
<rect x="145.5" y="12.8" width="1.2" height="7.8" fill="#10a010"/>
<!-- auto trading icon -->
<path d="M166,12 l13,0 l-4,8.5 z" fill="#f4e070" stroke="#c8a020"/>
<ellipse cx="173" cy="9.5" rx="7.5" ry="2.5" fill="#58b0e8" stroke="#2a80c0"/>
<path d="M169,9 c0,-5 8,-5 8,0 z" fill="#68b8e8" stroke="#2a80c0"/>
<circle cx="177.5" cy="16.5" r="4.3" fill="#e02010" stroke="#b01008"/>
<rect x="176" y="15" width="3" height="3" fill="#fff"/>
<!-- CJK 自动交易 -->
<g stroke="#111" stroke-width="1" fill="none" shape-rendering="crispEdges">
<path d="M191.5,5 l-1,1.5 M187.5,7.5 h9 v9 h-9 z M187.5,10.5 h9 M187.5,13.5 h9"/>
<path d="M199.5,7.5 h5 M198.5,10.5 h6.5 M201,11 l-2,5 l5.5,-1 M203,13 l1.5,2 M204.5,9.5 h4.5 v7 h-1.5 M206.5,6 v4 l-2.5,6.5"/>
<path d="M215.5,5 v2 M210.5,7.5 h11 M213.5,9 l-2,2 M218.5,9 l2,2 M213,11.5 l7.5,5 M219,11.5 l-7.5,5"/>
<path d="M224.5,5.5 h8 v5 h-8 z M224.5,8 h8 M223.5,12.5 h9.5 v4 h-1.5 M226.5,12 l-3,4.5 M229.5,12.5 l-3,4 M232,13.5 l-3,3"/>
</g>
<!-- bar chart icon -->
<g fill="#505050" shape-rendering="crispEdges">
<rect x="259" y="8" width="1" height="13"/><rect x="257" y="18" width="13" height="1"/>
<rect x="281" y="0" width="0" height="0"/>
</g>
<path d="M259.7,6.5 l-2,2.5 h4 z M271.5,18.7 l-2.5,-2 v4 z" fill="#505050"/>
<path d="M265.5,8 v8.5 M265.5,9.2 h2.5 M263,15.8 h2.5" stroke="#10a010" stroke-width="1.3" fill="none"/>
<!-- candle icon -->
<rect x="287" y="8" width="1" height="13" fill="#505050"/><rect x="285" y="18" width="13" height="1" fill="#505050"/>
<path d="M287.7,6.5 l-2,2.5 h4 z M299.5,18.7 l-2.5,-2 v4 z" fill="#505050"/>
<rect x="293" y="5" width="1" height="12" fill="#0a8a0a"/>
<rect x="291.5" y="7.5" width="4" height="7" fill="#30d030" stroke="#0a8a0a"/>
<!-- line chart icon -->
<rect x="315" y="8" width="1" height="13" fill="#505050"/><rect x="313" y="18" width="13" height="1" fill="#505050"/>
<path d="M315.7,6.5 l-2,2.5 h4 z M327.5,18.7 l-2.5,-2 v4 z" fill="#505050"/>
<path d="M314,15.5 c2,-2 4,-6 6,-5 c2,1 3,3 5.5,4" stroke="#30a030" stroke-width="1.2" fill="none"/>
<!-- zoom in/out -->
<path d="M355,14.5 l5,5" stroke="#c89a10" stroke-width="3"/>
<path d="M355,14.5 l5,5" stroke="#f0dc60" stroke-width="1.5"/>
<circle cx="351" cy="11" r="5.5" fill="#d8f0ff" stroke="#3a78c0" stroke-width="1.2"/>
<path d="M348,11 h6 M351,8 v6" stroke="#4a88b0" stroke-width="1.6"/>
<path d="M383,14.5 l5,5" stroke="#c89a10" stroke-width="3"/>
<path d="M383,14.5 l5,5" stroke="#f0dc60" stroke-width="1.5"/>
<circle cx="379" cy="11" r="5.5" fill="#d8f0ff" stroke="#3a78c0" stroke-width="1.2"/>
<path d="M376,11 h6" stroke="#4a88b0" stroke-width="1.6"/>
<!-- tile windows -->
<g shape-rendering="crispEdges">
<rect x="401" y="5" width="8" height="8" fill="#2a9a1a"/><rect x="409" y="5" width="8" height="8" fill="#1a50d0"/>
<rect x="401" y="13" width="8" height="8" fill="#1a50d0"/><rect x="409" y="13" width="8" height="8" fill="#2a9a1a"/>
<rect x="402" y="9" width="6" height="3" fill="#fff"/><rect x="410" y="9" width="6" height="3" fill="#fff"/>
<rect x="402" y="17" width="6" height="3" fill="#fff"/><rect x="410" y="17" width="6" height="3" fill="#fff"/>
<rect x="403" y="10" width="4" height="1" fill="#9ad890"/><rect x="411" y="10" width="4" height="1" fill="#8aa0e8"/>
<rect x="403" y="18" width="4" height="1" fill="#8aa0e8"/><rect x="411" y="18" width="4" height="1" fill="#9ad890"/>
<rect x="402" y="6" width="1" height="1" fill="#fff"/><rect x="410" y="6" width="1" height="1" fill="#fff"/>
<rect x="402" y="14" width="1" height="1" fill="#fff"/><rect x="410" y="14" width="1" height="1" fill="#fff"/>
</g>
<!-- autoscroll -->
<rect x="439" y="8" width="1" height="13" fill="#505050"/><rect x="437" y="18" width="13" height="1" fill="#505050"/>
<path d="M439.7,6.5 l-2,2.5 h4 z M451.5,18.7 l-2.5,-2 v4 z" fill="#505050"/>
<path d="M444.5,9 l4,3.5 l-4,3.5 z" fill="#60d060" stroke="#10a010"/>
<!-- chart shift -->
<rect x="467" y="8" width="1" height="13" fill="#505050"/><rect x="465" y="18" width="13" height="1" fill="#505050"/>
<path d="M467.7,6.5 l-2,2.5 h4 z M479.5,18.7 l-2.5,-2 v4 z" fill="#505050"/>
<rect x="473" y="7" width="1.2" height="10" fill="#1a70b0"/>
<path d="M474.5,12.4 l3,-2.5 v1.8 h1.5 v1.4 h-1.5 v1.8 z" fill="#e05010"/>
<!-- indicators -->
<path d="M498.5,5.5 h8 l3,3 v10 h-11 z" fill="#fff" stroke="#7a7a7a"/>
<path d="M501,9 c-1,0 -1,2 -1,4 v4" stroke="#555" fill="none"/>
<path d="M506.5,11.5 h3 v3.5 h3.5 v3 h-3.5 v4 h-3 v-4 h-4 v-3 h4 z" fill="#3ee03e" stroke="#0a9a0a"/>
<path d="M519.5,11.5 h5.5 l-2.75,3.5 z" fill="#000"/>
<!-- clock -->
<circle cx="544" cy="12.8" r="7" fill="#fff" stroke="#1468c8" stroke-width="2.2"/>
<path d="M543,8 v4.5 h3" stroke="#111" stroke-width="1.2" fill="none"/>
<path d="M558.5,12 h5.5 l-2.75,3.3 z" fill="#000"/>
<!-- templates -->
<rect x="575.5" y="6.5" width="15" height="13" fill="#fff" stroke="#3a78c8"/>
<rect x="576" y="7" width="14" height="2" fill="#4a88d0"/>
<rect x="576" y="13.5" width="14" height="1" fill="#3a78c8"/>
<path d="M577,12.5 l3,0 l2,-1 l2,1 l3,-1.5 l2,0" stroke="#c03010" fill="none"/>
<path d="M577,17.5 l3,-1 l2,1 l3,-2 l3,2" stroke="#10a010" fill="none"/>
<path d="M597.5,12 h5.5 l-2.75,3.3 z" fill="#000"/>
<!-- cursor -->
<path d="M627.3,6 v11 l2.8,-2.4 l2.3,5.3 l1.7,-0.8 l-2.3,-5.2 h3.6 z" fill="#4a4a4a"/>
<!-- crosshair -->
<g fill="#404040" shape-rendering="crispEdges">
<rect x="652" y="13" width="6" height="1"/><rect x="661" y="13" width="6" height="1"/>
<rect x="659" y="6" width="1" height="6"/><rect x="659" y="15" width="1" height="6"/>
<rect x="693" y="7" width="1" height="13"/>
<rect x="716" y="13" width="12" height="1"/>
</g>
<path d="M744,19.7 l12,-12" stroke="#404040" stroke-width="1.2"/>
<!-- equidistant channel -->
<path d="M769.5,14.5 l8,-8 M772,19 l10,-10 M775,20 l9,-9" stroke="#404040" stroke-width="1"/>
<path d="M773,12 l-1.5,7 M777,10 l-1.5,7 M781,8 l-1.5,7 M782,5 v6" stroke="#404040" stroke-width="1"/>
<text x="781" y="22" font-size="7" font-weight="bold" fill="#404040">E</text>
<!-- fibo -->
<g stroke="#404040" stroke-width="1" stroke-dasharray="1,1" shape-rendering="crispEdges">
<path d="M799,6.5 h13 M799,9.5 h13 M799,13.5 h13 M799,17.5 h9"/>
</g>
<text x="808.5" y="22" font-size="7" font-weight="bold" fill="#404040">F</text>
<!-- A -->
<text x="829.5" y="17.8" font-size="12" font-weight="bold" fill="#505050">A</text>
<!-- T label -->
<rect x="856.5" y="7.5" width="11" height="12" fill="none" stroke="#404040" stroke-dasharray="1,1" shape-rendering="crispEdges"/>
<text x="857.6" y="17.8" font-size="10.5" font-weight="bold" fill="#505050">T</text>
<!-- arrows icon -->
<path d="M886.6,6 l3.5,3.3 l-3.5,2.2 l-3.5,-2.2 z" fill="#404040"/>
<path d="M885.3,13 l2.2,2.7 l4.3,-4.8" stroke="#404040" stroke-width="1.4" fill="none"/>
<path d="M893.5,14.5 l3.5,2.6 l-3.5,3 l-3.5,-3 z" fill="#404040"/>
<path d="M904,12 h5.2 l-2.6,3 z" fill="#000"/>
<!-- timeframes -->
<g font-size="9.6" fill="#303030">
<text x="930.5" y="16.8">M1</text>
<text x="958.5" y="16.8">M5</text>
<text x="984.5" y="16.8">M15</text>
<text x="1012.3" y="16.8">M30</text>
<text x="1043" y="16.8">H1</text>
<text x="1070.3" y="16.8">H4</text>
<text x="1099.5" y="16.8">D1</text>
<text x="1127" y="16.8">W1</text>
<text x="1153.3" y="16.8">MN</text>
</g>
<!-- right icons -->
<circle cx="1646.6" cy="10.4" r="3.8" fill="none" stroke="#2a5ad0" stroke-width="1.2"/>
<path d="M1643.8,13.2 l-3.8,3.8" stroke="#2a5ad0" stroke-width="2.2"/>
<path d="M1664,14.5 c0,-3 3,-4.5 6,-4.5 c3,0 5,1.5 5,4.5 c0,3 -3,4.5 -6,4.5 l-2,2.5 l0,-3 c-2,-1 -3,-2 -3,-4 z" fill="#dfe2ee" stroke="#999"/>
<circle cx="1677.7" cy="10.4" r="8" fill="#e03a1e"/>
<text x="1677.7" y="14.5" font-size="11.5" fill="#fff" text-anchor="middle" font-family="Liberation Serif">1</text>
</svg>

</body></html>
